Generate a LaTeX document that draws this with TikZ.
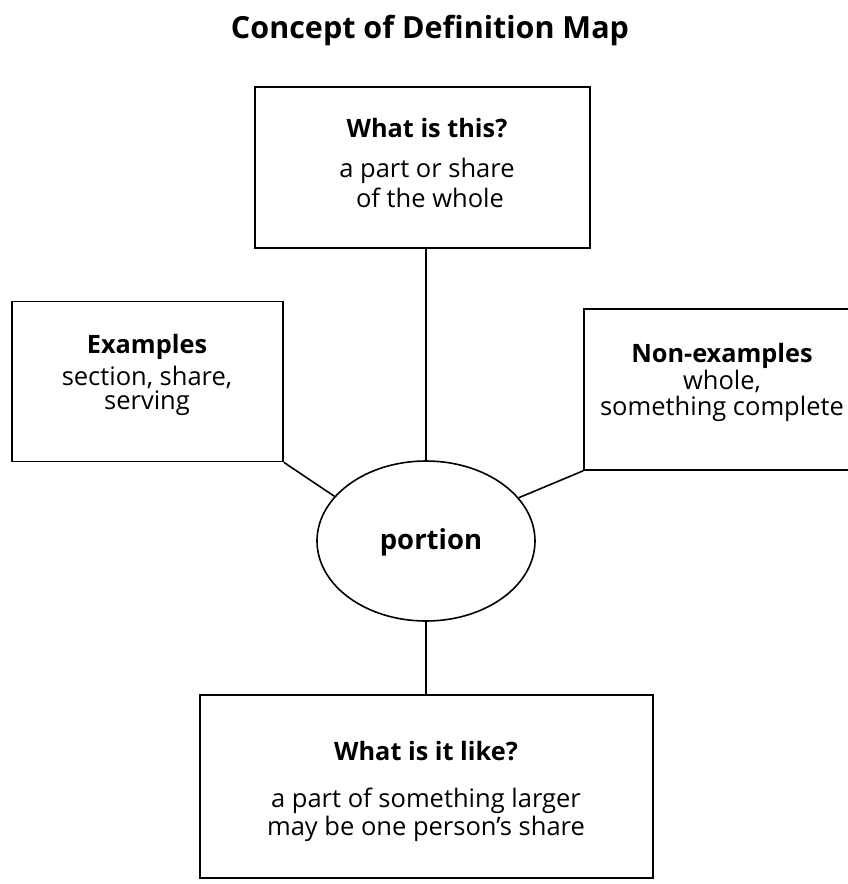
\documentclass[tikz,border=0pt]{standalone}
\usepackage{fontspec}
\setmainfont{Open Sans}
\usetikzlibrary{shapes.geometric}
\tikzset{
  boxframe/.style={draw, line width=1.6pt, rectangle, inner sep=0pt},
  hub/.style={draw, line width=1.6pt, ellipse, inner sep=0pt, minimum width=218pt, minimum height=160pt},
  link/.style={line width=1.6pt},
  headtxt/.style={font=\fontsize{25.3}{30}\selectfont\bfseries, inner sep=0pt, anchor=base},
  bodytxt/.style={font=\fontsize{25.5}{30}\selectfont, inner sep=0pt, anchor=base},
  titletxt/.style={font=\fontsize{30.5}{36}\selectfont\bfseries, inner sep=0pt, anchor=base},
}
\begin{document}
\begin{tikzpicture}[x=1pt, y=-1pt]
  \clip (0,0) rectangle (848,884);
  \fill[white] (0,0) rectangle (848,884);

  % title
  \node[titletxt] (title) at (430,38) {Concept of Definition Map};

  % frames
  \node[boxframe, minimum width=335pt, minimum height=161pt] (top) at (422.5,167.5) {};
  \node[boxframe, minimum width=271pt, minimum height=160pt] (lft) at (147.5,381.5) {};
  \node[boxframe, minimum width=300pt, minimum height=161pt] (rgt) at (734,389.5) {};
  \node[boxframe, minimum width=453pt, minimum height=183pt] (bot) at (426.5,786.5) {};
  \node[hub] (ell) at (426,541) {};

  % texts
  \node[headtxt] (topH) at (427,137) {What is this?};
  \node[bodytxt] (topA) at (427,177) {a part or share};
  \node[bodytxt] (topB) at (430,207) {of the whole};

  \node[headtxt] (lftH) at (147,353) {Examples};
  \node[bodytxt] (lftA) at (147,385) {section, share,};
  \node[bodytxt] (lftB) at (147,409) {serving};

  \node[headtxt] (rgtH) at (722,362) {Non-examples};
  \node[bodytxt] (rgtA) at (722,389) {whole,};
  \node[bodytxt] (rgtB) at (722,415) {something complete};

  \node[font=\fontsize{27.5}{32}\selectfont\bfseries, inner sep=0pt, anchor=base] (ellT) at (431,549) {portion};

  \node[headtxt] (botH) at (426,760) {What is it like?};
  \node[bodytxt] (botA) at (426,807) {a part of something larger};
  \node[bodytxt] (botB) at (426,835) {may be one person's share};

  % connectors
  \draw[link] (ell.north) -- (ell.north |- top.south);
  \draw[link] (ell.south) -- (ell.south |- bot.north);
  \draw[link] (lft.south east) -- (ell.154);
  \draw[link] (rgt.south west) -- (ell.25);
\end{tikzpicture}
\end{document}
